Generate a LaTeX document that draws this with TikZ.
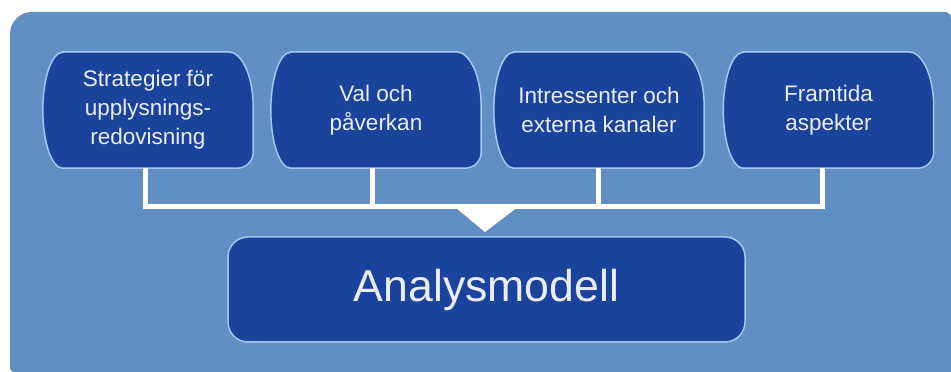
\documentclass[tikz,border=0pt]{standalone}
\usepackage{fontspec}
\setmainfont{Liberation Sans}
\usetikzlibrary{calc,backgrounds}
\definecolor{panelblue}{RGB}{98,143,195}
\definecolor{boxblue}{RGB}{27,67,156}
\definecolor{edgeblue}{RGB}{165,198,238}
\definecolor{txt}{RGB}{232,238,248}
\tikzset{
  topbox/.style={minimum width=210pt,minimum height=116pt,inner sep=0pt,align=center,
    text=txt,font=\fontsize{22.5}{29}\selectfont},
  mainbox/.style={minimum width=517pt,minimum height=105pt,inner sep=0pt,rounded corners=20pt,
    fill=boxblue,draw=edgeblue,line width=1.5pt,text=txt,font=\fontsize{44.6}{50}\selectfont},
  boxshape/.style={fill=boxblue,draw=edgeblue,line width=1.5pt},
  link/.style={draw=white,line width=5pt,line join=miter}
}
\newcommand\capsbox[1]{%
  \path[boxshape] ($(#1.north west)+(20,0)$) -- ($(#1.north east)+(-25,0)$)
    arc[start angle=90,end angle=0,x radius=25pt,y radius=55pt]
    -- ($(#1.south east)+(0,16)$)
    arc[start angle=0,end angle=-90,radius=16pt]
    -- ($(#1.south west)+(20,0)$)
    arc[start angle=270,end angle=90,x radius=20pt,y radius=58pt] -- cycle;}
\begin{document}
\begin{tikzpicture}[x=1pt,y=1pt]
\useasboundingbox (0,0) rectangle (951,372);
\node[topbox] (b1) at (148,262) {Strategier för\\upplysnings-\\redovisning};
\node[topbox] (b2) at (376,262) {Val och\\påverkan};
\node[topbox] (b3) at (599,262) {Intressenter och\\externa kanaler};
\node[topbox] (b4) at (828.5,262) {Framtida\\aspekter};
\begin{pgfonlayer}{background}
\fill[panelblue] (951,0) -- (14,0) arc[start angle=270,end angle=180,radius=4pt]
  -- (10,338) arc[start angle=180,end angle=90,radius=22pt]
  -- (945,360) arc[start angle=90,end angle=0,radius=6pt] -- cycle;
\capsbox{b1}\capsbox{b2}\capsbox{b3}\capsbox{b4}
\end{pgfonlayer}
\node[mainbox] (am) at (486.5,82.5) {Analysmodell};
\coordinate (hub) at (am.north |- 0,165);
\path[link] ([xshift=-3pt]b1.south) -- ([xshift=-3pt]b1.south |- hub) -- ([xshift=-6pt]b4.south |- hub) -- ([xshift=-6pt]b4.south);
\path[link] ([xshift=-4pt]b2.south) -- ([xshift=-4pt]b2.south |- hub);
\path[link] ([xshift=-1pt]b3.south) -- ([xshift=-1pt]b3.south |- hub);
\fill[white] ($(hub)+(-34,2)$) -- ($(hub)+(34,2)$) -- ($(hub)+(-1.5,-25)$) -- cycle;
\end{tikzpicture}
\end{document}
